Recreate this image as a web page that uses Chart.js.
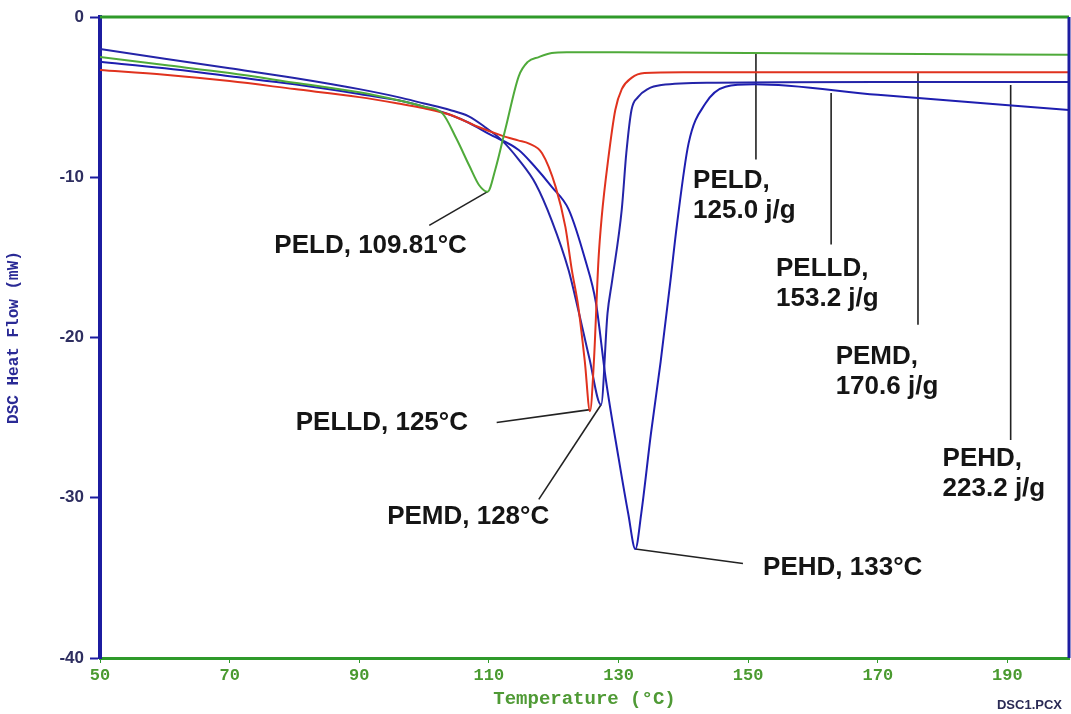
<!DOCTYPE html>
<html>
<head>
<meta charset="utf-8">
<script src="https://cdn.jsdelivr.net/npm/chart.js@4.4.1/dist/chart.umd.min.js"></script>
<style>
  body { margin: 0; background: #fff; }
  #wrap { width: 1071px; height: 714px; position: relative; }
</style>
</head>
<body>
<div id="wrap"><canvas id="dscChart"></canvas></div>
<script>
// DSC curves, temperature (°C) vs heat flow (mW)
const peldT  = [50, 60, 70, 80, 90, 96, 100, 102.8, 105, 107, 108.5, 109.8, 111, 112.6, 114.6, 116, 117.7, 119.7, 122, 130, 150, 170, 199.5];
const peldHF = [-2.5, -3.0, -3.5, -4.1, -4.7, -5.2, -5.6, -6.0, -7.6, -9.3, -10.5, -10.9, -9.5, -6.9, -3.7, -2.8, -2.5, -2.25, -2.2, -2.2, -2.25, -2.3, -2.35];

const pelldT  = [50, 60, 70, 80, 90, 96, 100, 104, 108, 112, 114.5, 116.2, 118.2, 120.3, 121.8, 122.8, 123.8, 124.8, 125.6, 126.2, 126.9, 127.4, 128.4, 129.5, 130.5, 132, 134, 140, 170, 199.5];
const pelldHF = [-3.3, -3.6, -4.0, -4.5, -5.0, -5.4, -5.7, -6.1, -6.8, -7.4, -7.7, -7.9, -8.5, -10.6, -13.1, -15.8, -18.1, -21.5, -24.6, -21.5, -15.2, -12.5, -8.9, -5.8, -4.5, -3.8, -3.5, -3.45, -3.45, -3.45];

const pemdT  = [50, 60, 70, 80, 90, 96, 100, 104, 106.9, 109.5, 112, 114.6, 117.2, 119.7, 122.3, 123.8, 125.5, 127.3, 128.3, 129, 130.5, 131.2, 132, 133, 134.5, 136.6, 145, 170, 199.5];
const pemdHF = [-2.0, -2.6, -3.2, -3.8, -4.5, -5.0, -5.4, -5.8, -6.2, -6.9, -7.7, -8.9, -10.4, -12.7, -15.8, -18.3, -21.3, -24.2, -18.5, -16.5, -12.0, -8.5, -5.8, -5.0, -4.5, -4.25, -4.1, -4.05, -4.05];

const pehdT  = [50, 60, 70, 80, 90, 96, 100, 104, 106.9, 110, 114.6, 117, 119.7, 122.3, 124.9, 126.5, 128, 130, 131.5, 132.6, 133.5, 135, 136.5, 138, 139, 140.8, 143.4, 146.5, 151, 170, 199.5];
const pehdHF = [-2.8, -3.2, -3.7, -4.2, -4.8, -5.2, -5.6, -6.1, -6.6, -7.3, -8.3, -9.3, -10.6, -12.0, -15.2, -17.8, -22.5, -27.5, -31.0, -33.2, -31.0, -26.0, -21.5, -16.5, -13.0, -7.9, -5.4, -4.35, -4.2, -4.85, -5.8];

const xTicks = [50, 70, 90, 110, 130, 150, 170, 190];
const yTicks = [0, -10, -20, -30, -40];

// callouts: text lines, where the text starts (data coords), leader line from tip to end
const calloutText  = [['PELD, 109.81°C'], ['PELLD, 125°C'], ['PEMD, 128°C'], ['PEHD, 133°C'],
                      ['PELD,', '125.0 j/g'], ['PELLD,', '153.2 j/g'], ['PEMD,', '170.6 j/g'], ['PEHD,', '223.2 j/g']];
const calloutTextX = [76.9, 80.2, 94.3, 152.3, 141.5, 154.3, 163.5, 180.0];
const calloutTextY = [-14.3, -25.3, -31.2, -34.4, -10.2, -15.7, -21.2, -27.6];
const leaderTipX   = [109.8, 125.6, 127.3, 132.6, 151.2, 162.8, 176.2, 190.5];
const leaderTipY   = [-10.9, -24.5, -24.2, -33.2, -2.3, -4.75, -3.45, -4.25];
const leaderEndX   = [100.8, 111.2, 117.7, 149.2, 151.2, 162.8, 176.2, 190.5];
const leaderEndY   = [-13.0, -25.3, -30.1, -34.1, -8.9, -14.2, -19.2, -26.4];

const toPoints = (xs, ys) => xs.map((x, i) => ({ x: x, y: ys[i] }));

const curve = (label, xs, ys, color) => ({
  label: label,
  data: toPoints(xs, ys),
  borderColor: color,
  borderWidth: 2,
  pointRadius: 0,
  showLine: true,
  cubicInterpolationMode: 'monotone'
});

const leaders = leaderTipX.map((x, i) => ({
  label: 'leader' + i,
  data: [{ x: x, y: leaderTipY[i] }, { x: leaderEndX[i], y: leaderEndY[i] }],
  borderColor: '#222',
  borderWidth: 1.6,
  pointRadius: 0,
  showLine: true,
  tension: 0
}));

const calloutPlugin = {
  id: 'callouts',
  afterDatasetsDraw(chart) {
    const { ctx, chartArea, scales: { x, y } } = chart;
    ctx.save();
    // frame: green top, blue right
    ctx.strokeStyle = '#2f9a2a';
    ctx.lineWidth = 3;
    ctx.beginPath();
    ctx.moveTo(chartArea.left, chartArea.top);
    ctx.lineTo(chartArea.right, chartArea.top);
    ctx.stroke();
    ctx.strokeStyle = '#1c1ca0';
    ctx.beginPath();
    ctx.moveTo(chartArea.right, chartArea.top);
    ctx.lineTo(chartArea.right, chartArea.bottom);
    ctx.stroke();

    ctx.fillStyle = '#151515';
    ctx.font = 'bold 26px "Liberation Sans", Arial, sans-serif';
    ctx.textAlign = 'left';
    ctx.textBaseline = 'middle';
    calloutText.forEach((lines, i) => {
      const px = x.getPixelForValue(calloutTextX[i]);
      const py = y.getPixelForValue(calloutTextY[i]);
      lines.forEach((t, j) => ctx.fillText(t, px, py + j * 30));
    });

    ctx.fillStyle = '#2a2a55';
    ctx.font = 'bold 13px "Liberation Sans", Arial, sans-serif';
    ctx.textAlign = 'right';
    ctx.fillText('DSC1.PCX', chart.width - 9, chart.height - 9);
    ctx.restore();
  }
};

new Chart(document.getElementById('dscChart').getContext('2d'), {
  type: 'scatter',
  data: {
    datasets: [
      curve('PELD', peldT, peldHF, '#4faa3a'),
      curve('PELLD', pelldT, pelldHF, '#e0321e'),
      curve('PEMD', pemdT, pemdHF, '#2424a8'),
      curve('PEHD', pehdT, pehdHF, '#1e1eb0'),
      ...leaders
    ]
  },
  options: {
    responsive: true,
    maintainAspectRatio: false,
    animation: false,
    layout: { padding: { top: 17, right: 2, left: 0, bottom: 0 } },
    plugins: {
      legend: { display: false },
      tooltip: { enabled: false }
    },
    scales: {
      x: {
        type: 'linear',
        min: 50,
        max: 199.5,
        afterFit: (s) => { s.height = 56; },
        afterBuildTicks: (s) => { s.ticks = xTicks.map(v => ({ value: v })); },
        grid: { drawOnChartArea: false, tickLength: 5, tickColor: '#2f9a2a', tickWidth: 1 },
        border: { color: '#2f9a2a', width: 3 },
        ticks: {
          color: '#4a9a30',
          padding: 3,
          font: { family: '"Liberation Mono", monospace', size: 17, weight: 'bold' }
        },
        title: {
          display: true,
          text: 'Temperature (°C)',
          color: '#4f9a35',
          padding: { top: 0, bottom: 3 },
          font: { family: '"Liberation Mono", monospace', size: 19, weight: 'bold' }
        }
      },
      y: {
        min: -40,
        max: 0,
        afterFit: (s) => { s.width = 100; },
        afterBuildTicks: (s) => { s.ticks = yTicks.map(v => ({ value: v })); },
        grid: { drawOnChartArea: false, tickLength: 10, tickColor: '#1c1ca0', tickWidth: 2 },
        border: { color: '#1c1ca0', width: 4 },
        ticks: {
          color: '#2e2e60',
          padding: 6,
          font: { family: '"Liberation Sans", Arial, sans-serif', size: 17, weight: 'bold' }
        },
        title: {
          display: true,
          text: 'DSC Heat Flow (mW)',
          color: '#2a2a95',
          padding: { top: 4, bottom: 0 },
          font: { family: '"Liberation Mono", monospace', size: 16, weight: 'bold' }
        }
      }
    }
  },
  plugins: [calloutPlugin]
});
</script>
</body>
</html>
